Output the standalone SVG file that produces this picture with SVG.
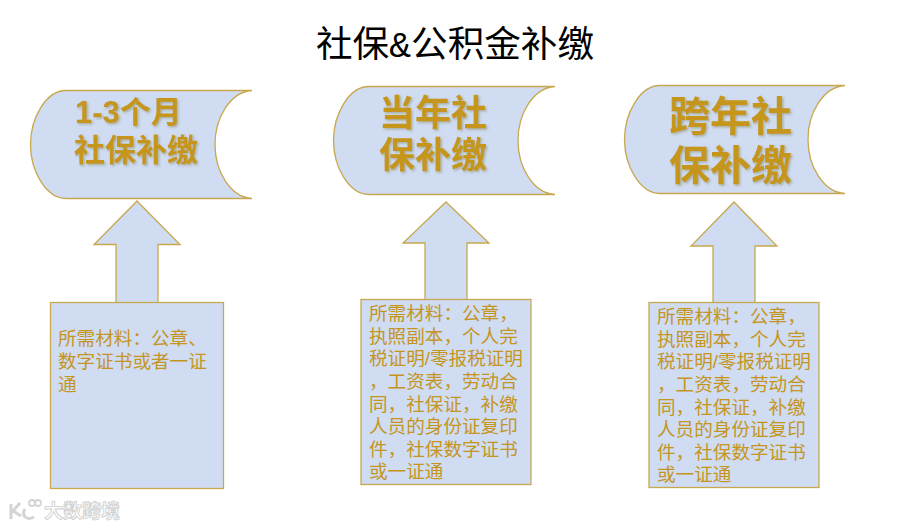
<svg xmlns="http://www.w3.org/2000/svg" width="916" height="528" viewBox="0 0 916 528">
<style>
.s{fill:#cfdcf1;stroke:#c8a84e;stroke-width:1.3}
.t{font-family:"Liberation Sans","Noto Sans CJK SC",sans-serif;fill:#c5951f}
.b{font-size:18.6px;font-weight:400}
.h{font-weight:700;filter:url(#sh)}
.title{font-family:"Liberation Mono","Noto Sans CJK SC",monospace;font-size:36.6px;fill:#000}
</style>
<defs>
<filter id="sh" x="-10%" y="-10%" width="125%" height="125%"><feDropShadow dx="1.5" dy="1.5" stdDeviation="0.8" flood-color="#8a8a60" flood-opacity=".55"/></filter>
</defs>
<rect width="916" height="528" fill="#fff"/>
<text class="title" x="316" y="57">社保&amp;公积金补缴</text>
<g id="connectors">
<path class="s" d="M137 201L180 244.500H158V303H116V244.500H94Z"/>
<path class="s" d="M446 202L489 243H467V300H425V243H403Z"/>
<path class="s" d="M734 202L777 246H755V303H713V246H691Z"/>
</g>
<g id="scroll1">
<path class="s" d="M66 90.500H252C230 92 215 118 215 144.500C215 171 230 197 252 198.500H66C46 198.500 30.500 171 30.500 144.500C30.500 118 46 90.500 66 90.500Z"/>
<text class="t h" font-size="31" x="75" y="123">1-3个月</text>
<text class="t h" font-size="31" x="74" y="161">社保补缴</text>
</g>
<g id="scroll2">
<path class="s" d="M369 86.500H555C533 88 518 114 518 140.500C518 167 533 193 555 194.500H369C349 194.500 333.500 167 333.500 140.500C333.500 114 349 86.500 369 86.500Z"/>
<text class="t h" font-size="36" x="379" y="126">当年社</text>
<text class="t h" font-size="36" x="379" y="168">保补缴</text>
</g>
<g id="scroll3">
<path class="s" d="M660 85.500H845C823 87 808 113 808 139.500C808 166 823 192 845 193.500H660C640 193.500 624.500 166 624.500 139.500C624.500 113 640 85.500 660 85.500Z"/>
<text class="t h" font-size="41" x="669" y="131">跨年社</text>
<text class="t h" font-size="41" x="669" y="180">保补缴</text>
</g>
<g id="box1">
<rect class="s" x="50.500" y="302.500" width="173" height="186"/>
<text class="t b" x="58" y="345">所需材料：公章、</text>
<text class="t b" x="58" y="368">数字证书或者一证</text>
<text class="t b" x="58" y="391">通</text>
</g>
<g id="box2">
<rect class="s" x="361" y="299.500" width="170" height="185"/>
<text class="t b" x="369" y="320">所需材料：公章，</text>
<text class="t b" x="369" y="343">执照副本，个人完</text>
<text class="t b" x="369" y="365">税证明/零报税证明</text>
<text class="t b" x="369" y="388">，工资表，劳动合</text>
<text class="t b" x="369" y="411">同，社保证，补缴</text>
<text class="t b" x="369" y="433">人员的身份证复印</text>
<text class="t b" x="369" y="456">件，社保数字证书</text>
<text class="t b" x="369" y="478">或一证通</text>
</g>
<g id="box3">
<rect class="s" x="649" y="302.500" width="170" height="185"/>
<text class="t b" x="657" y="323">所需材料：公章，</text>
<text class="t b" x="657" y="346">执照副本，个人完</text>
<text class="t b" x="657" y="368">税证明/零报税证明</text>
<text class="t b" x="657" y="391">，工资表，劳动合</text>
<text class="t b" x="657" y="414">同，社保证，补缴</text>
<text class="t b" x="657" y="436">人员的身份证复印</text>
<text class="t b" x="657" y="459">件，社保数字证书</text>
<text class="t b" x="657" y="481">或一证通</text>
</g>
<g id="watermark" fill="none" stroke="#d4d4d4" stroke-width="3">
<path d="M11 504V519M20 503L13 511L21 516"/>
<path d="M25 509C21 515 26 521 34 517"/>
<circle cx="32" cy="503" r="3" stroke-width="1.800"/>
<circle cx="38" cy="503" r="3" stroke-width="1.800"/>
<text x="44" y="518" font-family="'Noto Sans CJK SC',sans-serif" font-size="19" font-weight="700" fill="#fff" stroke="#cfcfcf" stroke-width=".9">大数跨境</text>
</g>
</svg>
